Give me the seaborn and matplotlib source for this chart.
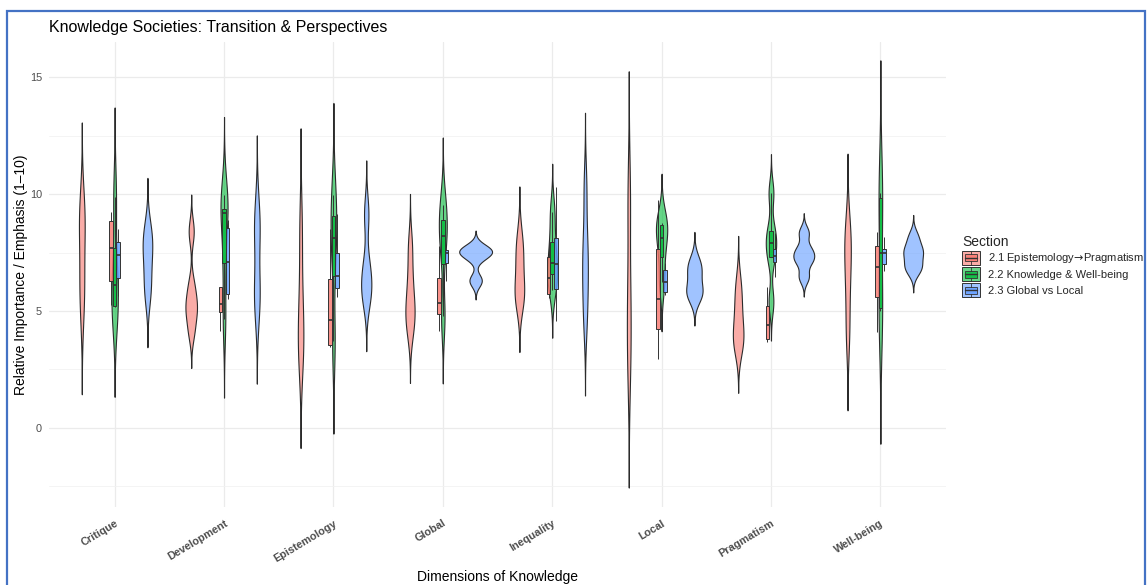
import numpy as np
import pandas as pd
import matplotlib
matplotlib.use("Agg")
import matplotlib.pyplot as plt
import seaborn as sns
from matplotlib.patches import Rectangle, Patch
from matplotlib.legend_handler import HandlerBase
from matplotlib.lines import Line2D

# ---------------- data ----------------
categories = ["Critique", "Development", "Epistemology", "Global",
              "Inequality", "Local", "Pragmatism", "Well-being"]
sections = ["2.1 Epistemology\u2192Pragmatism", "2.2 Knowledge & Well-being", "2.3 Global vs Local"]
section_colors = ["#F8766D", "#00BA38", "#619CFF"]

# observations per dimension (same order as categories)
epistemology_pragmatism = [
    [5.25, 6.64, 8.74, 9.25],
    [4.14, 4.96, 5.29, 6.04, 8.40],
    [3.45, 3.57, 5.65, 8.50],
    [4.16, 4.86, 5.33, 6.39, 7.77],
    [5.57, 5.80, 7.06, 8.00],
    [2.95, 5.53, 9.75],
    [3.68, 3.83, 4.95, 6.03],
    [4.09, 6.12, 7.60, 8.39],
]
knowledge_wellbeing = [
    [5.15, 5.22, 6.98, 9.88],
    [4.64, 7.07, 9.19, 9.36, 9.95],
    [3.70, 7.42, 8.78, 9.95],
    [4.79, 7.74, 8.68, 9.53],
    [5.90, 6.57, 7.04, 7.97, 9.25],
    [6.24, 7.64, 8.64, 8.76],
    [5.40, 7.29, 7.90, 8.43, 10.04],
    [5.00, 5.19, 9.75, 10.04],
]
global_local = [
    [5.64, 6.43, 7.39, 7.93, 8.50],
    [5.50, 5.78, 8.44, 8.90],
    [5.58, 6.09, 6.91, 9.14],
    [6.30, 7.33, 7.59, 7.63],
    [4.57, 5.96, 7.00, 8.14, 10.29],
    [5.70, 5.85, 6.63, 7.06],
    [6.45, 7.10, 7.36, 7.67, 8.35],
    [6.73, 7.00, 7.47, 7.64, 8.17],
]

title = "Knowledge Societies: Transition & Perspectives"
x_label = "Dimensions of Knowledge"
y_label = "Relative Importance / Emphasis (1\u201310)"
legend_title = "Section"

rows = []
for sec, groups in zip(sections, [epistemology_pragmatism, knowledge_wellbeing, global_local]):
    for cat, vals in zip(categories, groups):
        for v in vals:
            rows.append({"Dimension": cat, "Section": sec, "Value": v})
df = pd.DataFrame(rows)


def nrd0(kde):
    # R's default bandwidth rule (bw.nrd0), expressed as a factor of the std
    x = np.asarray(kde.dataset).ravel()
    sd = x.std(ddof=1)
    q75, q25 = np.percentile(x, [75, 25])
    h = 0.9 * min(sd, (q75 - q25) / 1.34) * len(x) ** (-0.2)
    return h / sd


# ---------------- figure ----------------
sns.set_theme(style="white")
plt.rcParams["font.family"] = ["Liberation Sans", "DejaVu Sans"]
plt.rcParams["mathtext.fontset"] = "dejavusans"

W, H = 1147, 585
fig = plt.figure(figsize=(W / 100, H / 100), dpi=100, facecolor="white")
ax = fig.add_axes([49 / W, 1 - 507 / H, (946 - 49) / W, (507 - 42) / H])

sns.violinplot(data=df, x="Dimension", y="Value", hue="Section",
               order=categories, hue_order=sections, palette=section_colors,
               saturation=1, density_norm="area", common_norm=True, cut=3,
               bw_method=nrd0, inner=None, width=0.9, linecolor="#2B2B2B",
               linewidth=0.8, legend=False, ax=ax)
for coll in ax.collections:
    fc = coll.get_facecolor()
    if len(fc):
        fc[:, 3] = 0.6
        coll.set_facecolor(fc)

n_before = len(ax.patches)
sns.boxplot(data=df, x="Dimension", y="Value", hue="Section",
            order=categories, hue_order=sections, palette=section_colors,
            saturation=1, width=0.1, showfliers=False, showcaps=False,
            linecolor="#333333", linewidth=0.7, legend=False,
            medianprops=dict(linewidth=1.2, color="#333333"), ax=ax)
for p in ax.patches[n_before:]:
    fc = p.get_facecolor()
    p.set_facecolor((fc[0], fc[1], fc[2], 0.8))

ax.set_xlim(-0.6, len(categories) - 0.4)
ax.set_ylim(-3.38, 16.5)
ax.set_yticks([0, 5, 10, 15])
ax.set_yticks([-2.5, 2.5, 7.5, 12.5], minor=True)
ax.set_axisbelow(True)
ax.grid(True, which="major", axis="both", color="#EBEBEB", linewidth=0.9)
ax.grid(True, which="minor", axis="y", color="#F2F2F2", linewidth=0.6)
for s in ax.spines.values():
    s.set_visible(False)
ax.tick_params(axis="both", which="both", length=0)
ax.tick_params(axis="y", pad=5, labelsize=7.8, labelcolor="#4D4D4D")
ax.tick_params(axis="x", pad=8, labelsize=7.8, labelcolor="#4D4D4D")
ax.set_xlabel("")
ax.set_ylabel("")
for lab in ax.get_xticklabels():
    lab.set_rotation(31)
    lab.set_ha("right")
    lab.set_va("top")
    lab.set_rotation_mode("anchor")
    lab.set_fontweight("bold")

fig.text(49 / W, 1 - 32 / H, title, fontsize=11.5, color="black", ha="left", va="baseline")
fig.text(497.5 / W, 1 - 577 / H, x_label, fontsize=10, color="black", ha="center", va="center")
fig.text(21 / W, 1 - 274.5 / H, y_label, fontsize=10, color="black", ha="center", va="center", rotation=90)


class HandlerSection(HandlerBase):
    def create_artists(self, legend, orig_handle, xdescent, ydescent,
                       width, height, fontsize, trans):
        col = orig_handle.get_facecolor()[:3]
        x0, y0 = -xdescent, -ydescent
        outer = Rectangle((x0, y0), width, height, facecolor=(*col, 0.6),
                          edgecolor="#333333", linewidth=0.7, transform=trans)
        inner = Rectangle((x0 + 0.15 * width, y0 + 0.25 * height), 0.7 * width, 0.5 * height,
                          facecolor=(*col, 0.8), edgecolor="#333333", linewidth=0.6, transform=trans)
        med = Line2D([x0 + 0.15 * width, x0 + 0.85 * width], [y0 + 0.5 * height] * 2,
                     color="#333333", linewidth=1.0, transform=trans)
        w1 = Line2D([x0 + 0.5 * width] * 2, [y0, y0 + 0.25 * height],
                    color="#333333", linewidth=0.6, transform=trans)
        w2 = Line2D([x0 + 0.5 * width] * 2, [y0 + 0.75 * height, y0 + height],
                    color="#333333", linewidth=0.6, transform=trans)
        return [outer, inner, med, w1, w2]


handles = [Patch(facecolor=c) for c in section_colors]
legend_labels = [s.replace("\u2192", r"$\!\rightarrow\!$") for s in sections]
leg = fig.legend(handles, legend_labels, loc="upper left",
                 bbox_to_anchor=(962 / W, 1 - 235 / H), frameon=False,
                 title=legend_title, fontsize=8, title_fontsize=10,
                 handlelength=1.6, handleheight=1.6, labelspacing=0.15,
                 handletextpad=0.7, borderpad=0, borderaxespad=0,
                 alignment="left", handler_map={Patch: HandlerSection()})

# screenshot frame
fig.add_artist(Rectangle((7 / W, -0.02), (1145 - 7) / W, 1.02 - 11 / H,
                         transform=fig.transFigure, fill=False,
                         edgecolor="#4472C4", linewidth=1.6))

fig.savefig("out.png", dpi=100, facecolor="white")
